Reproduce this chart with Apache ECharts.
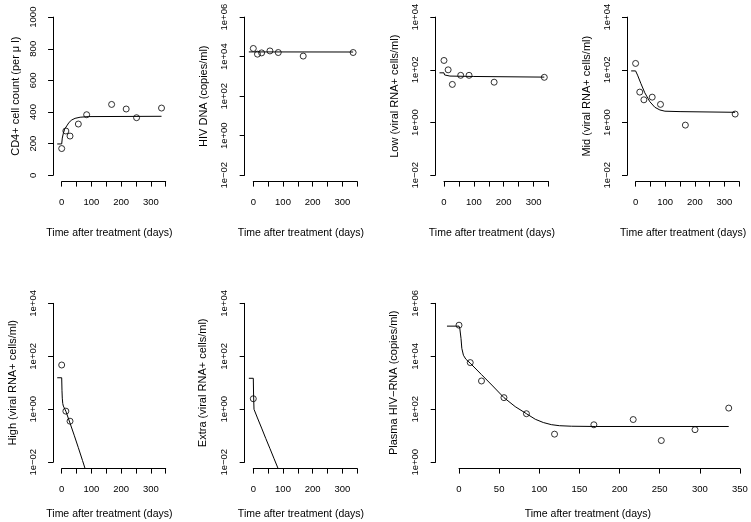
<!DOCTYPE html>
<html><head><meta charset="utf-8">
<script src="https://cdn.jsdelivr.net/npm/echarts@6/dist/echarts.min.js"></script>
<style>html,body{margin:0;padding:0;background:#fff}#c{width:751px;height:522px}</style>
</head><body><div id="c"></div>
<script>
// ---------------- data ----------------
const cd4Times = [0, 14, 28, 56, 84, 168, 217, 252, 336];
const cd4Obs = [169, 280, 248, 324, 383, 448, 419, 364, 425];
const cd4FitTimes = [-15, 0, 2, 5.5, 10, 17, 25, 34, 45, 62, 90, 336];
const cd4Fit = [198, 198, 235, 265, 292, 312, 335, 350, 360, 367, 371, 373];

const dnaTimes = [0, 14, 28, 56, 84, 168, 336];
const dnaObs = [26000, 13400, 15500, 19500, 16200, 10700, 16200];
const dnaFitTimes = [-15, 0, 336];
const dnaFit = [17400, 17400, 17200];

const lowTimes = [0, 14, 28, 56, 84, 168, 336];
const lowObs = [227, 100, 28, 62, 62, 34, 52];
const lowFitTimes = [-15, 0, 2, 5, 20, 100, 336];
const lowFit = [77, 77, 64, 59, 58, 56, 53];

const midTimes = [0, 14, 28, 56, 84, 168, 336];
const midObs = [175, 14.3, 7.3, 9.2, 4.9, 0.8, 2.1];
const midFitTimes = [-15, 0, 6.6, 18, 31, 48, 65, 82, 99, 150, 336];
const midFit = [91, 91, 63, 30, 13.5, 6.2, 3.8, 3.0, 2.7, 2.6, 2.45];

const highTimes = [0, 14, 28];
const highObs = [47, 0.85, 0.355];
const highFitTimes = [-15, 0, 1, 2, 3.5, 5.6, 14, 28, 42, 56, 70, 80];
const highFit = [15.5, 15.5, 5.0, 2.63, 1.66, 1.32, 0.85, 0.30, 0.105, 0.0355, 0.0117, 0.0052];

const extraTimes = [0];
const extraObs = [2.5];
const extraFitTimes = [-15, 0, 1, 2.4, 14, 28, 42, 56, 70, 84];
const extraFit = [14.8, 14.8, 3.16, 1.0, 0.47, 0.195, 0.079, 0.033, 0.0135, 0.0056];

const plasmaTimes = [0, 14, 28, 56, 84, 119, 168, 217, 252, 294, 336];
const plasmaObs = [150000, 5800, 1170, 275, 68, 11.5, 26, 41, 6.6, 17, 111];
const plasmaFitTimes = [-15, 0, 1, 2.5, 3.5, 5.5, 8.5, 14, 28, 42, 56, 70, 84, 95, 105, 115, 125, 140, 170, 336];
const plasmaFit = [138000, 138000, 112000, 46800, 20000, 11000, 7800, 5500, 2040, 760, 275, 126, 68, 42, 31.6, 26.3, 24, 22.9, 22.4, 22.4];

const xTitle = 'Time after treatment (days)';
const yTitles = [
  'CD4+ cell count (per \u03bc l)',
  'HIV DNA (copies/ml)',
  'Low (viral RNA+ cells/ml)',
  'Mid (viral RNA+ cells/ml)',
  'High (viral RNA+ cells/ml)',
  'Extra (viral RNA+ cells/ml)',
  'Plasma HIV\u2212RNA (copies/ml)'
];
const xTicks = [0, 350, 50];          // min, max, step of time axis
const xRange = [-29.04, 350.04];      // plotting range of time axis

// ---------------- panel definitions ----------------
const panels = [
  {log: false, yTicks: [0, 1000, 200], yRange: [-40, 1040], t: cd4Times, v: cd4Obs, ft: cd4FitTimes, fv: cd4Fit},
  {log: true, yTicks: [-2, 6, 2], yRange: [-2.32, 6.32], t: dnaTimes, v: dnaObs, ft: dnaFitTimes, fv: dnaFit},
  {log: true, yTicks: [-2, 4, 2], yRange: [-2.24, 4.24], t: lowTimes, v: lowObs, ft: lowFitTimes, fv: lowFit},
  {log: true, yTicks: [-2, 4, 2], yRange: [-2.24, 4.24], t: midTimes, v: midObs, ft: midFitTimes, fv: midFit},
  {log: true, yTicks: [-2, 4, 2], yRange: [-2.24, 4.24], t: highTimes, v: highObs, ft: highFitTimes, fv: highFit},
  {log: true, yTicks: [-2, 4, 2], yRange: [-2.24, 4.24], t: extraTimes, v: extraObs, ft: extraFitTimes, fv: extraFit},
  {log: true, yTicks: [0, 6, 2], yRange: [-0.24, 6.24], t: plasmaTimes, v: plasmaObs, ft: plasmaFitTimes, fv: plasmaFit}
];

// ---------------- layout (pixels) ----------------
const TOP = [10.8, 181.6], BOT = [297, 468.6];
const layout = [
  {L: 53.07, R: 165.7, V: TOP, yGap: 32, xGap: 46, every: 100},
  {L: 244.67, R: 357.3, V: TOP, yGap: 35, xGap: 46, every: 100},
  {L: 435.3, R: 548.5, V: TOP, yGap: 35, xGap: 46, every: 100},
  {L: 627.0, R: 739.3, V: TOP, yGap: 35, xGap: 46, every: 100},
  {L: 53.07, R: 165.7, V: BOT, yGap: 35, xGap: 40, every: 100},
  {L: 244.67, R: 357.3, V: BOT, yGap: 36, xGap: 40, every: 100},
  {L: 435.7, R: 740.0, V: BOT, yGap: 36, xGap: 40, every: 50}
];

const FONT = "'Liberation Sans', Arial, Helvetica, sans-serif";
const tickFont = 9.5, xNameFont = 10.5, yNameFont = 11;
const tf = (p, v) => p.log ? Math.log10(v) : v;
const logLabel = v => {
  const e = Math.round(v);
  return '1e' + (e < 0 ? '\u2212' : '+') + String(Math.abs(e)).padStart(2, '0');
};

const grids = [], xAxes = [], yAxes = [], series = [];
const hidden = (extra) => Object.assign({
  type: 'value', axisLine: {show: false}, axisTick: {show: false},
  axisLabel: {show: false}, splitLine: {show: false}
}, extra);

panels.forEach((p, i) => {
  const g = layout[i];
  const W = g.R - g.L, H = g.V[1] - g.V[0];
  const px = x => g.L + (x - xRange[0]) / (xRange[1] - xRange[0]) * W;
  const py = y => g.V[1] - (y - p.yRange[0]) / (p.yRange[1] - p.yRange[0]) * H;
  const base = grids.length;
  // data grid (whole plotting region)
  grids.push({left: g.L, top: g.V[0], width: W, height: H, containLabel: false, outerBoundsMode: 'none'});
  // grid for the time axis (spans tick range)
  grids.push({left: px(xTicks[0]), top: g.V[0], width: px(xTicks[1]) - px(xTicks[0]), height: H, containLabel: false, outerBoundsMode: 'none'});
  // grid for the value axis (spans tick range)
  grids.push({left: g.L, top: py(p.yTicks[1]), width: W, height: py(p.yTicks[0]) - py(p.yTicks[1]), containLabel: false, outerBoundsMode: 'none'});

  xAxes.push(hidden({gridIndex: base, min: xRange[0], max: xRange[1],
    name: xTitle, nameLocation: 'middle', nameGap: g.xGap, nameMoveOverlap: false,
    nameTextStyle: {fontFamily: FONT, fontSize: xNameFont, color: '#000'}}));
  yAxes.push(hidden({gridIndex: base, min: p.yRange[0], max: p.yRange[1],
    name: yTitles[i], nameLocation: 'middle', nameGap: g.yGap, nameMoveOverlap: false,
    nameTextStyle: {fontFamily: FONT, fontSize: yNameFont, color: '#000'}}));

  xAxes.push({type: 'value', gridIndex: base + 1, position: 'bottom',
    min: xTicks[0], max: xTicks[1], interval: xTicks[2],
    axisLine: {show: true, onZero: false, lineStyle: {color: '#000', width: 1}},
    axisTick: {show: true, length: 5, inside: false, lineStyle: {color: '#000', width: 1}},
    splitLine: {show: false},
    axisLabel: {show: true, margin: 16, color: '#000', fontFamily: FONT, fontSize: tickFont,
      showMinLabel: true, showMaxLabel: true,
      formatter: v => (v % g.every === 0 ? String(v) : '')}});
  yAxes.push(hidden({gridIndex: base + 1, min: 0, max: 1, show: false}));

  xAxes.push(hidden({gridIndex: base + 2, min: 0, max: 1, show: false}));
  yAxes.push({type: 'value', gridIndex: base + 2, position: 'left',
    min: p.yTicks[0], max: p.yTicks[1], interval: p.yTicks[2],
    axisLine: {show: true, onZero: false, lineStyle: {color: '#000', width: 1}},
    axisTick: {show: true, length: 5, inside: false, lineStyle: {color: '#000', width: 1}},
    splitLine: {show: false},
    axisLabel: {show: true, rotate: 90, margin: 15, color: '#000', fontFamily: FONT, fontSize: tickFont,
      showMinLabel: true, showMaxLabel: true,
      formatter: v => (p.log ? logLabel(v) : String(v))}});

  series.push({type: 'line', xAxisIndex: base, yAxisIndex: base,
    data: p.ft.map((t, k) => [t, tf(p, p.fv[k])]),
    showSymbol: false, symbol: 'none', clip: true, silent: true, z: 2,
    lineStyle: {color: '#000', width: 1}});
  series.push({type: 'scatter', xAxisIndex: base, yAxisIndex: base,
    data: p.t.map((t, k) => [t, tf(p, p.v[k])]),
    symbol: 'circle', symbolSize: 6, clip: false, silent: true, z: 3,
    itemStyle: {color: 'rgba(0,0,0,0)', borderColor: '#000', borderWidth: 1}});
});

const chart = echarts.init(document.getElementById('c'), null, {renderer: 'canvas'});
chart.setOption({
  animation: false,
  backgroundColor: '#fff',
  grid: grids, xAxis: xAxes, yAxis: yAxes, series: series
});
</script></body></html>
